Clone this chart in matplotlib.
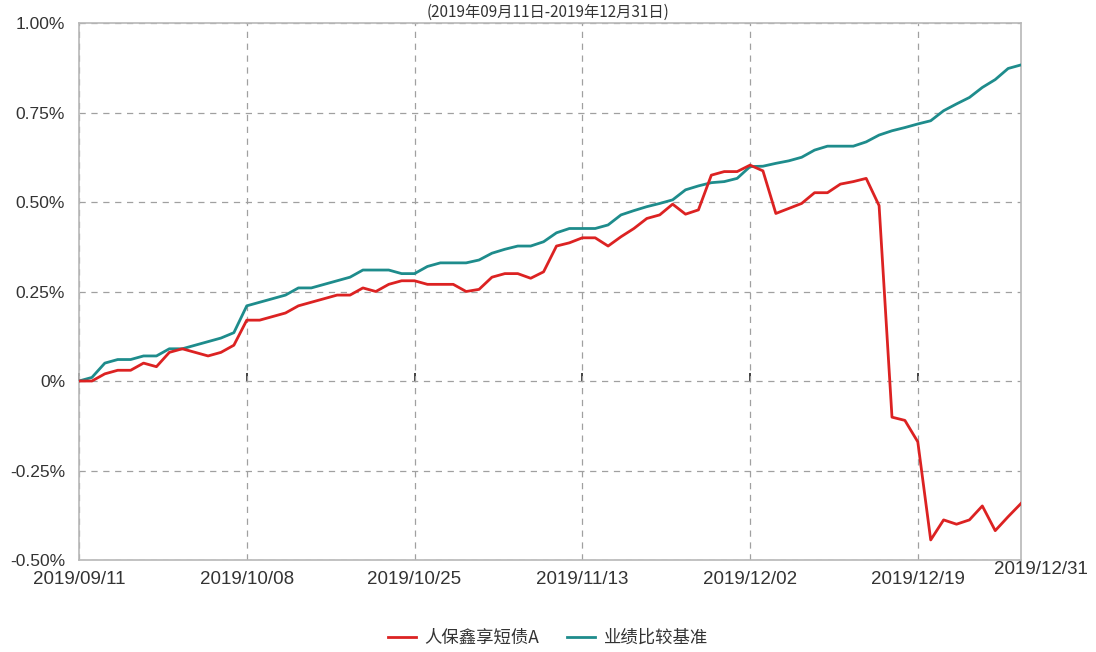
import numpy as np
import pandas as pd
import matplotlib
matplotlib.use("Agg")
import matplotlib.pyplot as plt

plt.rcParams['font.family'] = ['Liberation Sans', 'Noto Sans CJK SC', 'DejaVu Sans']

# Trading days 2019/09/11 - 2019/12/31 (Mid-Autumn and National Day holidays removed)
holidays = ['2019-09-13', '2019-10-01', '2019-10-02', '2019-10-03', '2019-10-04', '2019-10-07']
dates = pd.bdate_range('2019-09-11', '2019-12-31')
dates = dates[~dates.isin(pd.to_datetime(holidays))]

# Cumulative return (%)
fund = [0, 0, 0.02, 0.03, 0.03, 0.05, 0.04, 0.08, 0.09, 0.08, 0.07, 0.08, 0.10,
        0.17, 0.17, 0.18, 0.19, 0.21, 0.22, 0.23, 0.24, 0.24, 0.26, 0.25, 0.27,
        0.28, 0.28, 0.27, 0.27, 0.27, 0.25,
        0.256, 0.29, 0.30, 0.30, 0.287, 0.305, 0.377, 0.386, 0.40, 0.40, 0.377,
        0.403, 0.426, 0.454, 0.464, 0.494, 0.466, 0.478, 0.575, 0.585, 0.585,
        0.603, 0.587, 0.468, 0.482, 0.496, 0.526, 0.526, 0.55,
        0.557, 0.566, 0.49, -0.101, -0.11, -0.17, -0.444, -0.388, -0.40, -0.388,
        -0.349, -0.418, -0.379, -0.342]
bench = [0, 0.01, 0.05, 0.06, 0.06, 0.07, 0.07, 0.09, 0.09, 0.10, 0.11, 0.12, 0.135,
         0.21, 0.22, 0.23, 0.24, 0.26, 0.26, 0.27, 0.28, 0.29, 0.31, 0.31, 0.31,
         0.30, 0.30, 0.32, 0.33, 0.33, 0.33,
         0.338, 0.357, 0.368, 0.377, 0.377, 0.389, 0.414, 0.426, 0.426, 0.426, 0.436,
         0.464, 0.476, 0.487, 0.496, 0.506, 0.534, 0.545, 0.554, 0.557, 0.566,
         0.599, 0.60, 0.608, 0.615, 0.625, 0.645, 0.656, 0.656,
         0.656, 0.668, 0.687, 0.699, 0.708, 0.718, 0.727, 0.755, 0.774, 0.792,
         0.82, 0.842, 0.873, 0.883]

tick_dates = ['2019-09-11', '2019-10-08', '2019-10-25', '2019-11-13', '2019-12-02', '2019-12-19']
last_date = '2019-12-31'
y_ticks = [-0.5, -0.25, 0, 0.25, 0.5, 0.75, 1.0]
y_labels = ['-0.50%', '-0.25%', '0%', '0.25%', '0.50%', '0.75%', '1.00%']

names = ['人保鑫享短债A', '业绩比较基准']
colors = ['#dc2222', '#1e8c8c']

x = np.arange(len(dates))
tick_pos = [dates.get_loc(pd.Timestamp(d)) for d in tick_dates]
last_pos = dates.get_loc(pd.Timestamp(last_date))

fig = plt.figure(figsize=(10.96, 6.52), dpi=100)
ax = fig.add_axes([0.0721, 0.1411, 0.8595, 0.8236])

ax.plot(x, fund, color=colors[0], lw=2.0, label=names[0], zorder=4)
ax.plot(x, bench, color=colors[1], lw=2.0, label=names[1], zorder=3)

ax.set_xlim(0, last_pos)
ax.set_ylim(-0.5, 1.0)
ax.set_yticks(y_ticks)
ax.set_yticklabels(y_labels, fontsize=12.5, color='#333333')
ax.set_xticks(tick_pos)
ax.set_xticklabels([d.replace('-', '/') for d in tick_dates], fontsize=13.5, color='#333333')
ax.tick_params(axis='both', length=0)
ax.tick_params(axis='y', pad=10)
ax.tick_params(axis='x', pad=8)

# last date label sits a bit to the right so it fits in the figure
shift = matplotlib.transforms.ScaledTranslation(20 / 100, -1 / 100, fig.dpi_scale_trans)
ax.text(last_pos, -0.5, last_date.replace('-', '/'), fontsize=13.5, color='#333333',
        ha='center', va='top', transform=ax.transData + shift)

ax.grid(True, color='#a0a0a0', linestyle=(0, (5, 4.5)), linewidth=0.9)
for s in ax.spines.values():
    s.set_color('#b8b8b8')
    s.set_linewidth(1.2)

# small tick marks on the zero line
zero_axis = ax.secondary_xaxis((0 + 0.5) / 1.5)
zero_axis.set_xticks(tick_pos)
zero_axis.tick_params(direction='in', length=6, width=1.2, color='#222222', labelbottom=False, labeltop=False)
zero_axis.spines['bottom'].set_visible(False)
zero_axis.spines['top'].set_visible(False)

fig.text(0.5, 1 - 17 / 652, '(2019年09月11日-2019年12月31日)', ha='center', va='baseline',
         fontsize=11, color='#333333', family=['Noto Sans CJK SC'])

leg = ax.legend(loc='center', bbox_to_anchor=(0.5, 14 / 652), bbox_transform=fig.transFigure,
                ncol=2, frameon=False, handlelength=1.6, columnspacing=1.6, handletextpad=0.5,
                prop={'family': ['Noto Sans CJK SC'], 'size': 12.5})
for t in leg.get_texts():
    t.set_color('#333333')

plt.savefig('out.png', dpi=100)
